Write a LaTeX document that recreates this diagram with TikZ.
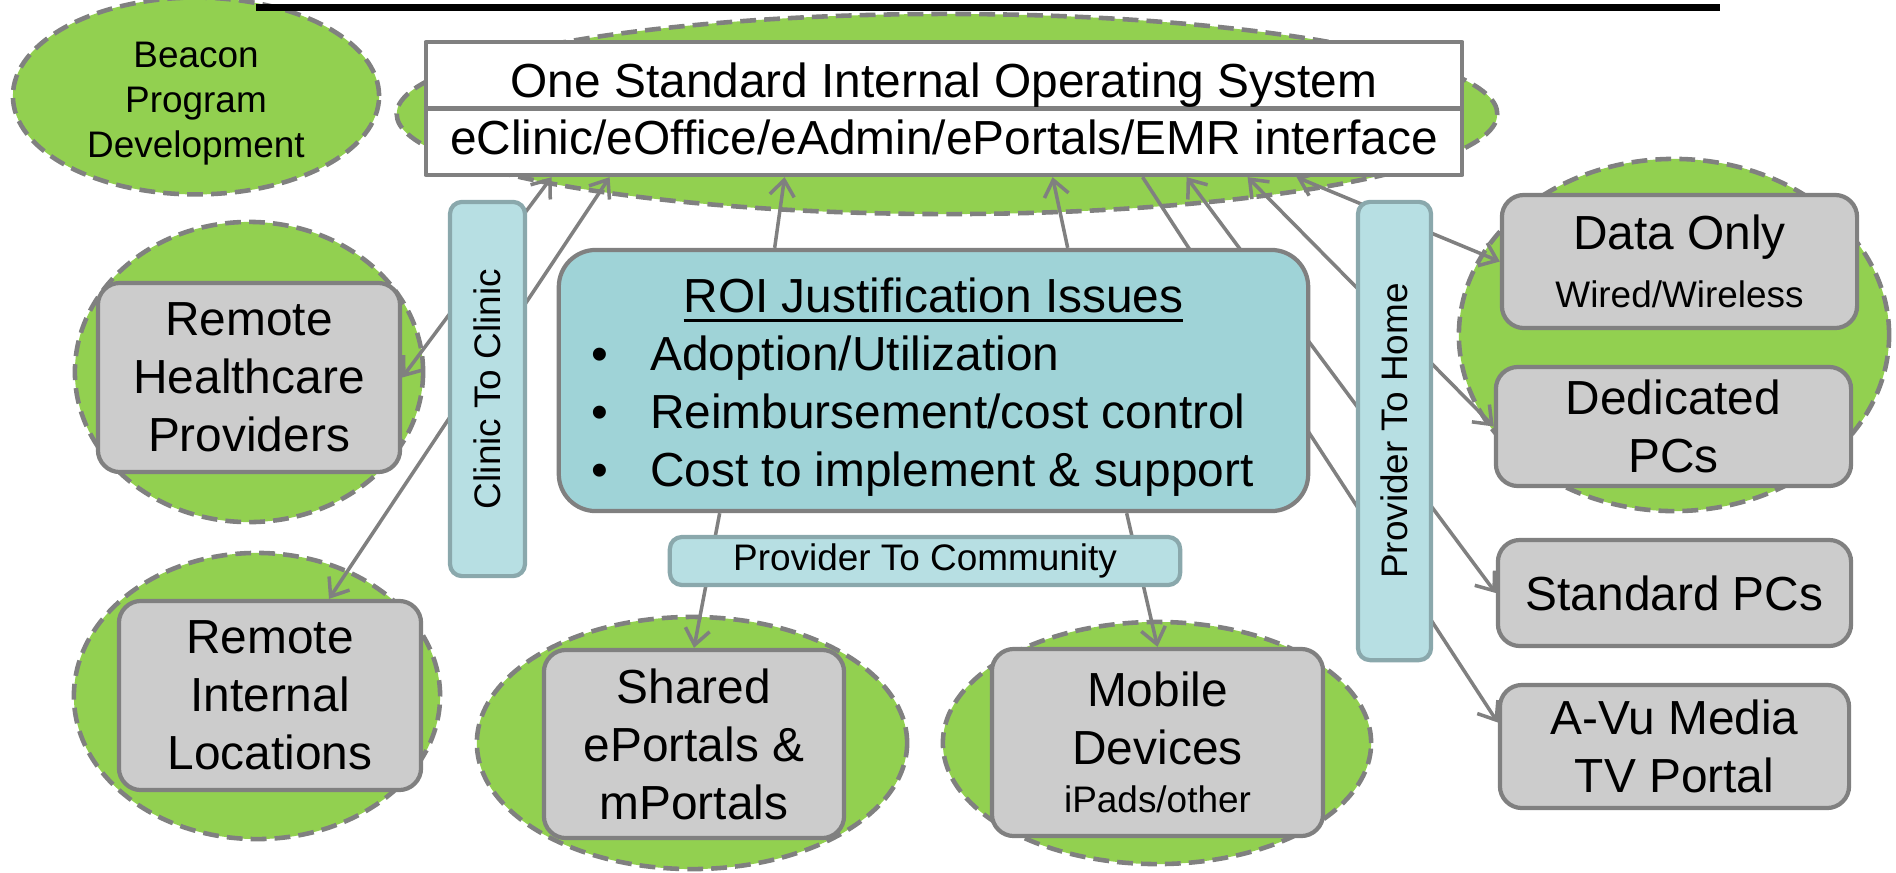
\documentclass[tikz,border=0pt]{standalone}
\usepackage{fontspec}
\setmainfont{Liberation Sans}
\usetikzlibrary{calc}
\usetikzlibrary{arrows.meta}
\usetikzlibrary{shapes.geometric}

\definecolor{leaf}{HTML}{92D050}
\definecolor{wire}{HTML}{808080}
\definecolor{shade}{HTML}{CCCCCC}
\definecolor{pool}{HTML}{9FD3D7}
\definecolor{mist}{HTML}{B7DFE3}
\definecolor{mistline}{HTML}{8AA8AC}

\newcommand\roititle[1]{\setbox0\hbox{#1}\rlap{\rule[-2.75pt]{\wd0}{.9pt}}\box0}

\pgfdeclarelayer{blobs}
\pgfdeclarelayer{links}
\pgfsetlayers{blobs, links, main}

\begin{document}
\begin{tikzpicture}[x = .01cm, y = -.01cm, line join = round,
  big/.style = {font = \fontsize{13.6}{16.5}\selectfont},
  small/.style = {font = \fontsize{10.5}{12.8}\selectfont},
  blob/.style = {ellipse, inner sep = 0, fill = leaf, draw = wire,
    line width = 1.3pt, dash pattern = on 4.5pt off 2.3pt},
  unit/.style = {big, rectangle, rounded corners = .22cm, fill = shade,
    draw = wire, line width = 1.2pt, align = center, inner sep = 0},
  lane/.style = {small, rectangle, rounded corners = .12cm, fill = mist,
    draw = mistline, line width = 1.2pt, inner sep = 0},
  link/.style = {draw = wire, line width = 1pt},
  > = {Straight Barb[length = 4.5pt, width = 7pt]}]
  \useasboundingbox (0, 0) rectangle (1896, 872);

  \draw[line width = 2pt] (256, 7.5) -- (1720, 7.5);

  \begin{pgfonlayer}{blobs}
    \node[blob, small, align = center, minimum width = 3.66cm,
    minimum height = 1.74cm] (beacon) at (196, 96)
    {\rule{0pt}{11.8pt}Beacon\\Program\\Development};
    \node[blob, minimum width = 11cm, minimum height = 2cm] (osblob)
    at (947, 114) {};
    \node[blob, minimum width = 4.3cm, minimum height = 3.52cm] (homeblob)
    at (1674, 335) {};
    \node[blob, minimum width = 3.48cm, minimum height = 3cm] (rhpblob)
    at (249, 372) {};
    \node[blob, minimum width = 3.66cm, minimum height = 2.86cm] (rilblob)
    at (257, 696) {};
    \node[blob, minimum width = 4.3cm, minimum height = 2.52cm] (shrblob)
    at (692, 743) {};
    \node[blob, minimum width = 4.28cm, minimum height = 2.42cm] (mobblob)
    at (1157, 743) {};
  \end{pgfonlayer}

  \node[rectangle, fill = white, draw = wire, line width = 1.2pt,
  minimum width = 10.36cm, minimum height = 1.33cm] (os) at (944, 108.5) {};
  \draw[wire, line width = 1.2pt] (os.west) -- (os.east);
  \node[big, anchor = base] (osname) at (944, 97)
  {One Standard Internal Operating System};
  \node[big, anchor = base] (osapps) at (944, 154)
  {eClinic/eOffice/eAdmin/ePortals/EMR interface};

  \node[big, rectangle, rounded corners = .37cm, fill = pool, draw = wire,
  line width = 1.2pt, minimum width = 7.49cm, minimum height = 2.61cm,
  inner sep = 0] (roi) at (933.5, 380.5)
  {\begin{tabular}{@{}l@{\hspace{.42cm}}l@{\hspace{.22cm}}}
      \multicolumn{2}{@{}c@{}}{\rule{0pt}{15.6pt}\roititle{ROI Justification Issues}}\\
      \textbullet & Adoption/Utilization\\
      \textbullet & Reimbursement/cost control\\
      \textbullet & Cost to implement \& support
    \end{tabular}};

  \node[unit, minimum width = 3.02cm, minimum height = 1.89cm] (rhp)
  at (249, 377.5) {Remote\\Healthcare\\Providers};
  \node[unit, minimum width = 3.02cm, minimum height = 1.89cm] (ril)
  at (270, 695.5) {Remote\\Internal\\Locations};
  \node[unit, minimum width = 3cm, minimum height = 1.88cm] (shr)
  at (694, 744) {Shared\\ePortals \&\\mPortals};
  \node[unit, minimum width = 3.31cm, minimum height = 1.87cm] (mob)
  at (1157.5, 742.5)
  {Mobile\\Devices\\[-2.8pt]{\fontsize{10.5}{12.8}\selectfont iPads/other}};
  \node[unit, minimum width = 3.55cm, minimum height = 1.33cm] (dat)
  at (1679.5, 261.5)
  {Data Only\\{\fontsize{10.5}{12.8}\selectfont Wired/Wireless}};
  \node[unit, minimum width = 3.55cm, minimum height = 1.19cm] (ded)
  at (1673.5, 426.5) {Dedicated\\PCs};
  \node[unit, minimum width = 3.53cm, minimum height = 1.06cm] (std)
  at (1674.5, 593) {Standard PCs};
  \node[unit, minimum width = 3.49cm, minimum height = 1.23cm] (avu)
  at (1674.5, 746.5) {A-Vu Media\\TV Portal};

  \begin{pgfonlayer}{links}
    \draw[link, <->] ($(os.south west) + (128, 0)$) -- (rhp.east);
    \draw[link, <->] ($(os.south west) + (186, 0)$) -- ($(ril.north) + (59, 0)$);
    \draw[link, ->] ($(roi.north west) + (218, 0)$) -- ($(os.south west) + (361, 0)$);
    \draw[link, ->] ($(roi.north west) + (511, 0)$) -- ($(os.south west) + (629, 0)$);
    \draw[link, <->] ($(os.south west) + (873, 0)$) -- (dat.west);
    \draw[link, <->] ($(os.south west) + (824, 0)$) -- (ded.west);
    \draw[link, <->] ($(os.south west) + (763, 0)$) -- (std.west);
    \draw[link, ->] ($(os.south west) + (719, 0)$) -- ($(avu.west) + (0, -24)$);
    \draw[link, ->] ($(roi.south west) + (163, 0)$) -- (shr.north);
    \draw[link, ->] ($(roi.south west) + (570, 0)$) -- (mob.north);
  \end{pgfonlayer}

  \node[lane, rotate = 90, minimum width = 3.74cm, minimum height = .75cm]
  (clinic) at (487.5, 389) {Clinic To Clinic};
  \node[lane, rotate = 90, minimum width = 4.58cm, minimum height = .73cm]
  (home) at (1394.5, 431) {Provider To Home};
  \node[lane, minimum width = 5.1cm, minimum height = .48cm]
  (community) at (925, 561) {Provider To Community};
\end{tikzpicture}
\end{document}
